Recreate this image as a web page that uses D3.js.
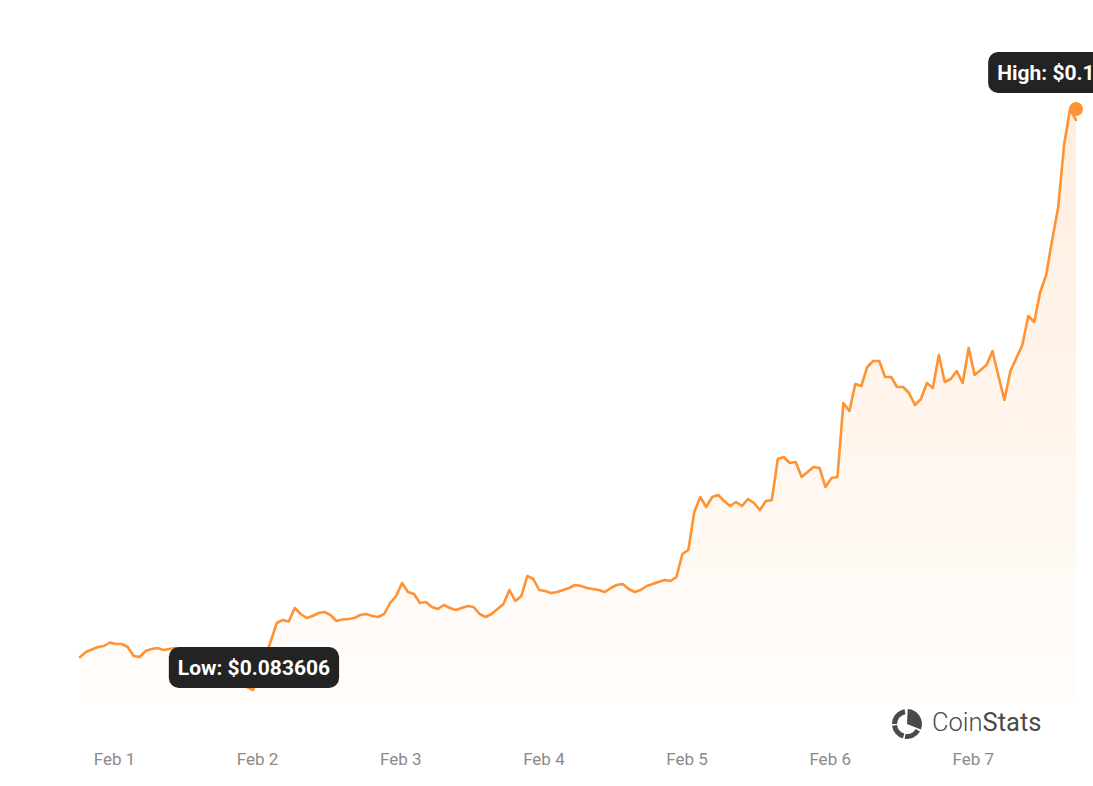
<!DOCTYPE html>
<html>
<head>
<meta charset="utf-8">
<script src="https://cdn.jsdelivr.net/npm/d3@7"></script>
<style>
  html, body { margin: 0; padding: 0; background: #ffffff; }
  svg { display: block; font-family: Roboto, "Noto Sans", sans-serif; }
</style>
</head>
<body>
<svg id="chart" width="1093" height="786"></svg>
<script>
// ---- data (hourly prices, USD) ----
const startTime = Date.UTC(2025, 0, 31, 18, 18); // first sample
const stepHours = 1;
const prices = [
  0.085916, 0.086266, 0.086441, 0.086616, 0.086686, 0.086931, 0.086826, 0.086826, 0.086616, 0.085986,
  0.085916, 0.086336, 0.086476, 0.086546, 0.086406, 0.086476, 0.086546, 0.086406, 0.086266, 0.086126,
  0.085916, 0.085636, 0.085426, 0.085146, 0.084866, 0.084586, 0.084306, 0.084026, 0.083816, 0.083606,
  0.084586, 0.085846, 0.087036, 0.088296, 0.088506, 0.088401, 0.089346, 0.088926, 0.088646, 0.088786,
  0.088996, 0.089066, 0.088856, 0.088436, 0.088541, 0.088576, 0.088646, 0.088856, 0.088926, 0.088786,
  0.088716, 0.088926, 0.089696, 0.090186, 0.091096, 0.090466, 0.090326, 0.089696, 0.089766, 0.089416,
  0.089276, 0.089556, 0.089346, 0.089206, 0.089346, 0.089486, 0.089416, 0.088926, 0.088716, 0.088926,
  0.089276, 0.089626, 0.090606, 0.089836, 0.090186, 0.091586, 0.091376, 0.090606, 0.090536, 0.090396,
  0.090466, 0.090606, 0.090746, 0.090956, 0.090886, 0.090746, 0.090676, 0.090606, 0.090466, 0.090746,
  0.090956, 0.091026, 0.090676, 0.090466, 0.090606, 0.090886, 0.091026, 0.091166, 0.091306, 0.091236,
  0.091516, 0.093126, 0.093406, 0.096066, 0.097116, 0.096416, 0.097116, 0.097256, 0.096836, 0.096486,
  0.096766, 0.096486, 0.096976, 0.096696, 0.096206, 0.096836, 0.096906, 0.099776, 0.099916, 0.099496,
  0.099566, 0.098516, 0.098866, 0.099216, 0.099146, 0.097816, 0.098446, 0.098516, 0.103696, 0.103136,
  0.105026, 0.104886, 0.106216, 0.106636, 0.106636, 0.105516, 0.105516, 0.104816, 0.104816, 0.104396,
  0.103556, 0.103976, 0.105096, 0.104746, 0.107056, 0.105166, 0.105376, 0.105936, 0.105096, 0.107546,
  0.105656, 0.106006, 0.106356, 0.107336, 0.105586, 0.103906, 0.105936, 0.106846, 0.107756, 0.109786,
  0.109366, 0.111466, 0.112656, 0.115106, 0.117346, 0.121756, 0.124276, 0.123506
];
const tickDates = [
  Date.UTC(2025, 1, 1), Date.UTC(2025, 1, 2), Date.UTC(2025, 1, 3), Date.UTC(2025, 1, 4),
  Date.UTC(2025, 1, 5), Date.UTC(2025, 1, 6), Date.UTC(2025, 1, 7)
];
const tickLabels = ["Feb 1", "Feb 2", "Feb 3", "Feb 4", "Feb 5", "Feb 6", "Feb 7"];
const lowLabelPrefix = "Low: $";
const highLabelPrefix = "High: $";
const brandParts = ["Coin", "Stats"];

// ---- build ----
const data = prices.map((v, i) => ({ t: new Date(startTime + i * stepHours * 3600e3), v }));
const lowVal = d3.min(prices), highVal = d3.max(prices);
const lowPt = data[prices.indexOf(lowVal)];
const highPt = data[prices.indexOf(highVal)];

const svg = d3.select("#chart");
const lineColor = "#ff9232";
const plotBottom = 702;

const x = d3.scaleUtc()
  .domain([data[0].t, data[data.length - 1].t])
  .range([80, 1076]);
const y = d3.scaleLinear()
  .domain([lowVal, highVal])
  .range([690, 109]);

const defs = svg.append("defs");
const grad = defs.append("linearGradient")
  .attr("id", "areaGrad")
  .attr("gradientUnits", "userSpaceOnUse")
  .attr("x1", 0).attr("x2", 0)
  .attr("y1", y(highVal)).attr("y2", plotBottom);
grad.append("stop").attr("offset", "0%").attr("stop-color", lineColor).attr("stop-opacity", 0.16);
grad.append("stop").attr("offset", "100%").attr("stop-color", lineColor).attr("stop-opacity", 0.02);

svg.append("path")
  .datum(data)
  .attr("fill", "url(#areaGrad)")
  .attr("d", d3.area().x(d => x(d.t)).y0(plotBottom).y1(d => y(d.v)));

svg.append("path")
  .datum(data)
  .attr("fill", "none")
  .attr("stroke", lineColor)
  .attr("stroke-width", 2.6)
  .attr("stroke-linejoin", "round")
  .attr("stroke-linecap", "round")
  .attr("d", d3.line().x(d => x(d.t)).y(d => y(d.v)));

// high marker
svg.append("circle")
  .attr("cx", x(data[data.length - 1].t))
  .attr("cy", y(highVal))
  .attr("r", 7)
  .attr("fill", lineColor);

// x axis
const axis = d3.axisBottom(x)
  .tickValues(tickDates.map(d => new Date(d)))
  .tickFormat((d, i) => tickLabels[i])
  .tickSize(0)
  .tickPadding(8);
const gx = svg.append("g").attr("transform", `translate(0,${745})`).call(axis);
gx.select(".domain").remove();
gx.selectAll("text")
  .attr("fill", "#8a8a8a")
  .style("font-family", "Roboto, sans-serif")
  .style("font-size", "17px");

// tooltips
function tooltip(cx, bottomY, label) {
  const g = svg.append("g");
  const t = g.append("text")
    .attr("x", cx)
    .attr("text-anchor", "middle")
    .attr("fill", "#ffffff")
    .style("font-family", "Roboto, sans-serif")
    .style("font-weight", 700)
    .style("font-size", "21px")
    .text(label);
  const w = t.node().getComputedTextLength() + 18;
  const h = 41;
  g.insert("rect", "text")
    .attr("x", cx - w / 2)
    .attr("y", bottomY - h)
    .attr("width", w)
    .attr("height", h)
    .attr("rx", 10)
    .attr("fill", "#232323");
  t.attr("y", bottomY - h / 2).attr("dy", "0.36em");
}
tooltip(x(lowPt.t) + 1, y(lowVal) - 2, lowLabelPrefix + lowVal.toFixed(6));
tooltip(x(highPt.t) + 6, y(highVal) - 16, highLabelPrefix + highVal.toFixed(6));

// brand logo
const logo = svg.append("g").attr("transform", "translate(907,724)");
const R = 15, r = 10;
logo.append("path")
  .attr("fill", "#4a4a4a")
  .attr("d", d3.arc().innerRadius(0).outerRadius(R).startAngle(0.05).endAngle(1.95)());
const ringSegs = [[2.1, 3.3], [3.42, 4.6], [4.72, 6.12]];
ringSegs.forEach(s => {
  logo.append("path")
    .attr("fill", "#4a4a4a")
    .attr("d", d3.arc().innerRadius(r).outerRadius(R).startAngle(s[0]).endAngle(s[1])());
});
const brand = svg.append("text")
  .attr("x", 932).attr("y", 731)
  .attr("fill", "#4a4a4a")
  .style("font-family", "Roboto, sans-serif")
  .style("font-size", "25.5px");
brand.append("tspan").style("font-weight", 300).text(brandParts[0]);
brand.append("tspan").style("font-weight", 400).text(brandParts[1]);
</script>
</body>
</html>
